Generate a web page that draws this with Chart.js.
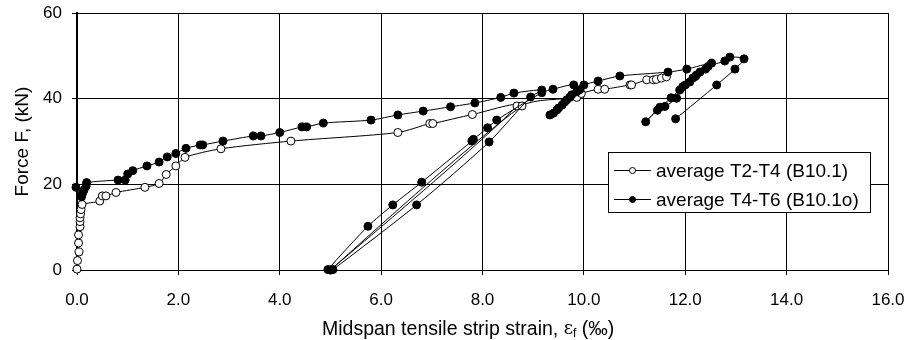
<!DOCTYPE html>
<html>
<head>
<meta charset="utf-8">
<script src="https://cdn.jsdelivr.net/npm/chart.js@4/dist/chart.umd.min.js"></script>
<style>
  html, body { margin: 0; padding: 0; background: #fff; }
</style>
</head>
<body>
<canvas id="strain-chart" width="910" height="340"></canvas>
<script>
/* ============================================================
   Force vs midspan strip strain — B10.1 / B10.1o
   ============================================================ */

const seriesLabels = ["average T2-T4 (B10.1)", "average T4-T6 (B10.1o)"];
const xTitle = ["Midspan tensile strip strain, ", "ε", "f", " (‰)"];
const yTitle = "Force F, (kN)";

// open circles — T2-T4 (B10.1)
const openStrain = [
  0, 0.01, 0.04, 0.03, 0.03, 0.06, 0.06, 0.06, 0.07, 0.08, 0.1,
  0.45, 0.5, 0.57, 0.77, 1.34, 1.62, 1.76, 1.95, 2.13, 2.84, 4.22,
  6.33, 6.96, 7.02, 7.8, 8.68, 5.0, 8.78,
  9.86, 9.95, 10.28, 10.41, 10.91, 10.94, 11.24, 11.37, 11.43, 11.53, 11.63
];
const openForce = [
  0.2, 2.2, 4.2, 6.3, 8.2, 10.1, 11.3, 12.2, 13.1, 14.1, 15.3,
  16.1, 17.3, 17.3, 18.1, 19.3, 20.2, 22.3, 24.3, 26.3, 28.3, 30.1,
  32.1, 34.2, 34.2, 36.3, 38.3, 0, 38.3,
  40.3, 41.2, 42.2, 42.2, 43.2, 43.2, 44.4, 44.4, 44.5, 44.8, 45.1
];

// filled circles — T4-T6 (B10.1o)
const fullStrain = [
  -0.02, 0.09, 0.11, 0.14, 0.18, 0.19, 0.81, 0.95, 1.0, 1.1, 1.38, 1.62, 1.78, 1.95,
  2.15, 2.43, 2.48, 2.88, 3.48, 3.63, 4.0, 4.44, 4.53, 4.86, 5.8, 6.33, 6.83, 7.37,
  7.85, 8.36, 8.62, 9.17,
  8.95, 8.13, 6.7, 5.05, 5.0, 4.95,
  5.74, 6.23, 6.8, 7.79, 7.82, 8.1, 8.28, 9.17, 9.39, 9.8,
  9.76, 9.66, 9.57, 9.47, 9.33,
  9.4, 9.5, 9.62, 9.72, 9.86, 9.92, 10.0, 10.28, 10.71, 11.66, 12.03, 12.52,
  12.4, 12.29, 12.22, 12.15, 12.09, 12.0, 11.89, 11.83, 11.6, 11.5, 11.22,
  11.45, 11.72, 11.95, 12.2, 12.45, 12.78, 12.88, 13.16,
  12.98, 12.62, 11.81
];
const fullForce = [
  19.3, 17.1, 17.9, 18.7, 19.6, 20.4, 21.0, 21.0, 22.4, 23.2, 24.3, 25.2, 26.4, 27.2,
  28.4, 29.2, 29.2, 30.1, 31.3, 31.3, 32.1, 33.4, 33.4, 34.3, 35.0, 36.2, 37.1, 38.1,
  39.0, 40.3, 41.3, 42.0,
  40.4, 29.9, 15.2, 0.1, 0, 0.1,
  10.2, 15.2, 20.5, 30.1, 30.5, 33.2, 35.0, 41.4, 42.2, 43.2,
  40.9, 39.7, 38.5, 37.4, 36.2,
  36.6, 37.8, 39.2, 40.3, 41.6, 42.1, 43.2, 44.1, 45.3, 46.2, 46.9, 48.3,
  46.9, 46.2, 45.5, 44.8, 43.9, 43.2, 42.0, 40.1, 38.2, 38.0, 34.6,
  37.3, 40.2, 42.8, 45.2, 47.5, 48.8, 49.7, 49.3,
  46.9, 43.2, 35.3
];

const xTicks = [0, 2, 4, 6, 8, 10, 12, 14, 16];
const yTicks = [0, 20, 40, 60];

const FONT = "'Liberation Sans', Arial, sans-serif";
const toPoints = (xs, ys) => xs.map((x, i) => ({ x, y: ys[i] }));

// keep the plot box where the layout padding puts it
const noEdgePadding = s => {
  s.paddingLeft = 0;
  s.paddingRight = 0;
  s.paddingTop = 0;
  s.paddingBottom = 0;
};

// ── Legend box + x title with subscript ──
const boxLegend = {
  id: "boxLegend",
  afterDraw(chart) {
    const ctx = chart.ctx;
    ctx.save();
    ctx.fillStyle = "#fff";
    ctx.fillRect(608.5, 152.5, 262, 60);
    ctx.strokeStyle = "#000";
    ctx.lineWidth = 1;
    ctx.strokeRect(608.5, 152.5, 262, 60);

    chart.data.datasets.forEach((ds, i) => {
      const y = 170.5 + i * 29;
      ctx.beginPath();
      ctx.moveTo(614, y);
      ctx.lineTo(651, y);
      ctx.stroke();
      ctx.beginPath();
      ctx.arc(632.5, y, 3, 0, Math.PI * 2);
      ctx.fillStyle = ds.pointBackgroundColor;
      ctx.fill();
      ctx.stroke();
      ctx.fillStyle = "#000";
      ctx.font = `19px ${FONT}`;
      ctx.textBaseline = "middle";
      ctx.fillText(ds.label, 656, y + 1);
    });

    // x title: "… strain, ε_f (‰)"
    const base = 335;
    let x = 322;
    ctx.textBaseline = "alphabetic";
    ctx.fillStyle = "#000";
    ctx.font = `19.5px ${FONT}`;
    ctx.fillText(xTitle[0], x, base);
    x += ctx.measureText(xTitle[0]).width;
    ctx.font = `18px 'DejaVu Serif', serif`;
    ctx.fillText(xTitle[1], x, base - 1);
    x += ctx.measureText(xTitle[1]).width;
    ctx.font = `12px ${FONT}`;
    ctx.fillText(xTitle[2], x, base + 2);
    x += ctx.measureText(xTitle[2]).width;
    ctx.font = `19.5px ${FONT}`;
    ctx.fillText(xTitle[3], x, base);
    ctx.restore();
  }
};

new Chart(document.getElementById("strain-chart"), {
  type: "scatter",
  data: {
    datasets: [
      {
        label: seriesLabels[0],
        data: toPoints(openStrain, openForce),
        showLine: true,
        borderColor: "#000",
        borderWidth: 1,
        pointRadius: 4,
        pointBorderWidth: 1,
        pointBackgroundColor: "#fff",
        pointBorderColor: "#000",
        tension: 0.25,
        clip: false,
        order: 1,
      },
      {
        label: seriesLabels[1],
        data: toPoints(fullStrain, fullForce),
        showLine: true,
        borderColor: "#000",
        borderWidth: 1,
        pointRadius: 4,
        pointBorderWidth: 1,
        pointBackgroundColor: "#000",
        pointBorderColor: "#000",
        tension: 0.25,
        clip: false,
        order: 0,
      }
    ]
  },
  options: {
    responsive: false,
    animation: false,
    devicePixelRatio: 1,
    layout: { padding: { top: 13, right: 22, left: 0, bottom: 0 } },
    plugins: {
      legend: { display: false },
      tooltip: { enabled: false },
    },
    scales: {
      x: {
        type: "linear",
        min: 0,
        max: 16,
        afterBuildTicks: s => { s.ticks = xTicks.map(v => ({ value: v })); },
        afterFit: s => { s.height = 70; noEdgePadding(s); },
        grid: { color: "#000", lineWidth: 1, tickLength: 5 },
        border: { color: "#000", width: 1 },
        ticks: {
          color: "#000",
          padding: 15,
          maxRotation: 0,
          font: { size: 17, family: FONT },
          callback: v => v.toFixed(1),
        },
        title: { display: false }
      },
      y: {
        type: "linear",
        min: 0,
        max: 60,
        afterBuildTicks: s => { s.ticks = yTicks.map(v => ({ value: v })); },
        afterFit: s => { s.width = 77; noEdgePadding(s); },
        grid: { color: "#000", lineWidth: 1, tickLength: 5 },
        border: { color: "#000", width: 2 },
        ticks: {
          color: "#000",
          padding: 10,
          font: { size: 17, family: FONT },
        },
        title: {
          display: true,
          text: yTitle,
          color: "#000",
          font: { size: 19, family: FONT },
          padding: { top: 11, bottom: 0 },
        }
      }
    }
  },
  plugins: [boxLegend]
});
</script>
</body>
</html>
